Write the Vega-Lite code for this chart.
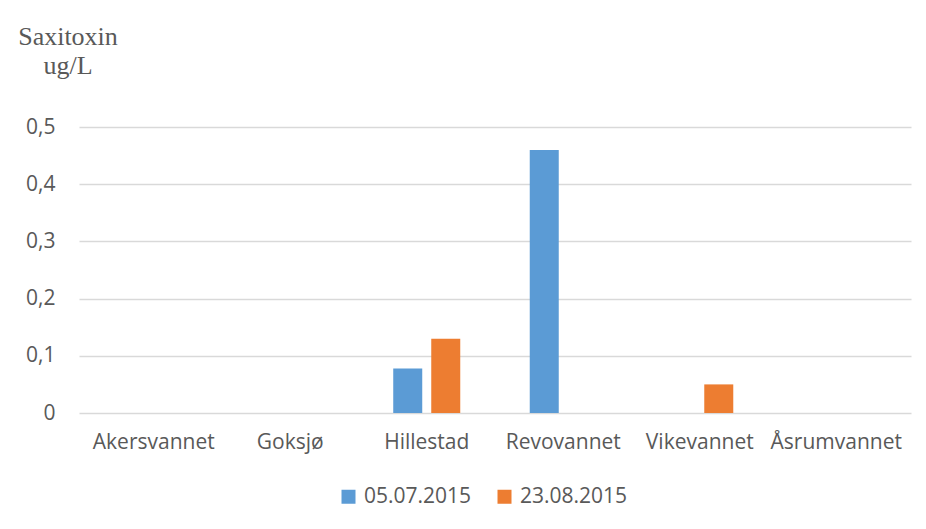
{
  "$schema": "https://vega.github.io/schema/vega-lite/v6.json",
  "width": 832,
  "height": 286,
  "autosize": "none",
  "padding": {"left": 79, "top": 127, "right": 15, "bottom": 116},
  "background": "white",
  "data": {
    "values": [
      {"lake": "Akersvannet", "date": "05.07.2015", "value": 0},
      {"lake": "Akersvannet", "date": "23.08.2015", "value": 0},
      {"lake": "Goksjø", "date": "05.07.2015", "value": 0},
      {"lake": "Goksjø", "date": "23.08.2015", "value": 0},
      {"lake": "Hillestad", "date": "05.07.2015", "value": 0.078},
      {"lake": "Hillestad", "date": "23.08.2015", "value": 0.13},
      {"lake": "Revovannet", "date": "05.07.2015", "value": 0.46},
      {"lake": "Revovannet", "date": "23.08.2015", "value": 0},
      {"lake": "Vikevannet", "date": "05.07.2015", "value": 0},
      {"lake": "Vikevannet", "date": "23.08.2015", "value": 0.05},
      {"lake": "Åsrumvannet", "date": "05.07.2015", "value": 0},
      {"lake": "Åsrumvannet", "date": "23.08.2015", "value": 0}
    ]
  },
  "mark": {"type": "bar"},
  "encoding": {
    "x": {
      "field": "lake",
      "type": "nominal",
      "sort": null,
      "scale": {"paddingInner": 0.45, "paddingOuter": 0.2725},
      "axis": {
        "title": null,
        "labelAngle": 0,
        "domain": false,
        "ticks": false,
        "grid": false,
        "labelFont": "Open Sans",
        "labelFontSize": 21,
        "labelColor": "#595959",
        "labelPadding": 18
      }
    },
    "xOffset": {
      "field": "date",
      "type": "nominal",
      "sort": null,
      "scale": {"paddingInner": 0.237, "paddingOuter": 0.106}
    },
    "y": {
      "field": "value",
      "type": "quantitative",
      "scale": {"domain": [0, 0.5]},
      "axis": {
        "values": [0, 0.1, 0.2, 0.3, 0.4, 0.5],
        "labelExpr": "datum.value == 0 ? '0' : replace(format(datum.value, '.1f'), '.', ',')",
        "domain": false,
        "ticks": false,
        "grid": true,
        "gridColor": "#D9D9D9",
        "gridWidth": 1.3,
        "labelFont": "Open Sans",
        "labelFontSize": 21,
        "labelColor": "#595959",
        "labelPadding": 24,
        "title": ["Saxitoxin", "ug/L"],
        "titleAngle": 0,
        "titleAlign": "center",
        "titleBaseline": "alphabetic",
        "titleX": -11.5,
        "titleY": -83,
        "titleFont": "Liberation Serif",
        "titleFontSize": 26,
        "titleFontWeight": "normal",
        "titleColor": "#595959",
        "titleLineHeight": 29
      }
    },
    "color": {
      "field": "date",
      "type": "nominal",
      "sort": null,
      "scale": {"range": ["#5B9BD5", "#ED7D31"]},
      "legend": {
        "title": null,
        "orient": "none",
        "direction": "horizontal",
        "legendX": 259,
        "legendY": 359,
        "symbolType": "square",
        "symbolSize": 196,
        "symbolStrokeWidth": 0,
        "labelFont": "Open Sans",
        "labelFontSize": 21,
        "labelColor": "#595959",
        "labelOffset": 5,
        "columnPadding": 22
      }
    }
  },
  "config": {"view": {"stroke": null}}
}
